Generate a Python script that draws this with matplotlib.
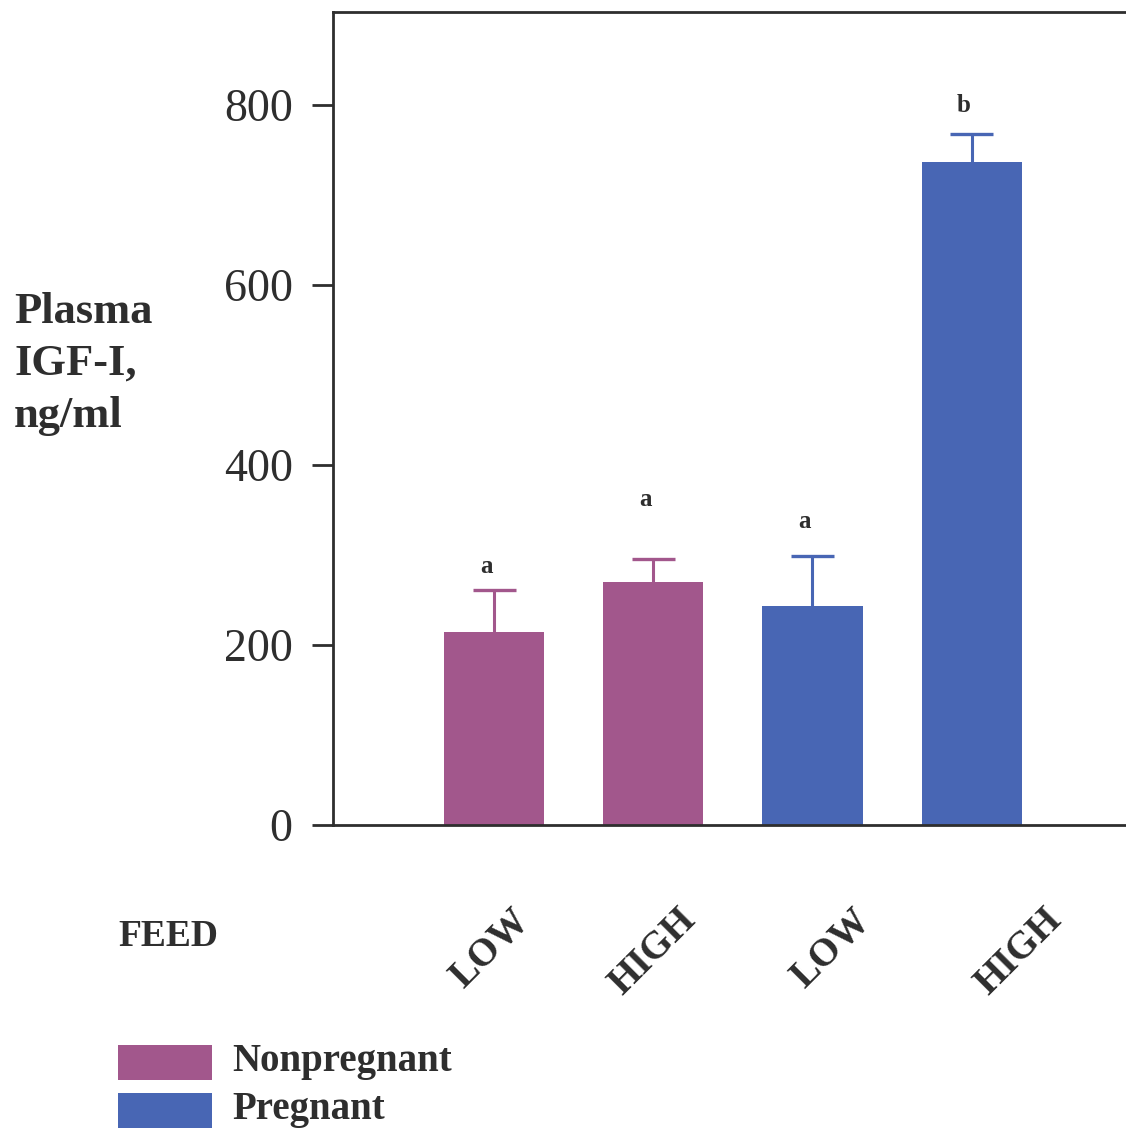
import matplotlib
matplotlib.use('Agg')
import matplotlib.pyplot as plt
import matplotlib.transforms as mtransforms
from matplotlib.patches import Rectangle

# plasma IGF-I by feed level and pregnancy status
feed = ['LOW', 'HIGH', 'LOW', 'HIGH']
status = ['Nonpregnant', 'Nonpregnant', 'Pregnant', 'Pregnant']
igf = [214, 270, 243, 736]
sem = [47, 26, 56, 32]
letters = ['a', 'a', 'a', 'b']
letter_y = [287, 361, 337, 799]

colors = {'Nonpregnant': '#a2578c', 'Pregnant': '#4866b4'}
ink = '#2e2e2e'

plt.rcParams['font.family'] = ['Liberation Serif', 'DejaVu Serif']

fig = plt.figure(figsize=(11.26, 11.34), dpi=100)
ax = fig.add_axes([333/1126, 1-825/1134, 1-333/1126, (825-12)/1134])

x = list(range(len(igf)))
barcols = [colors[s] for s in status]
ax.bar(x, igf, width=0.63, color=barcols, edgecolor='none', zorder=2)
# one-sided (upper) error bars
for xi, m, e, c in zip(x, igf, sem, barcols):
    ax.vlines(xi, m, m + e, color=c, lw=2.2, zorder=1)
    ax.hlines(m + e, xi - 0.135, xi + 0.135, color=c, lw=2.4, zorder=1)
for xi, t, ly in zip(x, letters, letter_y):
    ax.text(xi - 0.05, ly, t, ha='center', va='center', fontsize=18,
            fontweight='bold', color=ink)

ax.set_xlim(-1.013, 3.97)
ax.set_ylim(0, 903)
ax.set_yticks([0, 200, 400, 600, 800])
ax.tick_params(axis='y', length=15, width=2, color=ink, labelsize=33,
               labelcolor=ink, pad=14)
ax.set_xticks([])
for side in ['left', 'top', 'bottom']:
    ax.spines[side].set_color(ink)
    ax.spines[side].set_linewidth(2)
ax.spines['right'].set_visible(False)

# rotated feed labels under each bar
label_dx = [30, 37, 53, 85]
for xi, f, dx in zip(x, feed, label_dx):
    trans = mtransforms.offset_copy(ax.get_xaxis_transform(), fig=fig,
                                    x=dx, y=-90, units='dots')
    ax.text(xi, 0, f, transform=trans, rotation=45, rotation_mode='anchor',
            ha='right', va='center', fontsize=28, fontweight='bold', color=ink)

fig.text(14/1126, 1-364/1134, 'Plasma\nIGF-I,\nng/ml', ha='left', va='center',
         fontsize=32, fontweight='bold', color=ink, linespacing=1.38)
fig.text(118/1126, 1-937/1134, 'FEED', ha='left', va='center',
         fontsize=27, fontweight='bold', color=ink)

# legend boxes and labels
leg_top = [1045, 1093]
for (name, col), top in zip(colors.items(), leg_top):
    fig.patches.append(Rectangle((118/1126, 1-(top+35)/1134), 94/1126, 35/1134,
                                 transform=fig.transFigure, facecolor=col,
                                 edgecolor='none'))
    fig.text(232/1126, 1-(top+17)/1134, name, ha='left', va='center',
             fontsize=28, fontweight='bold', color=ink)

fig.savefig('out.png', dpi=100)
